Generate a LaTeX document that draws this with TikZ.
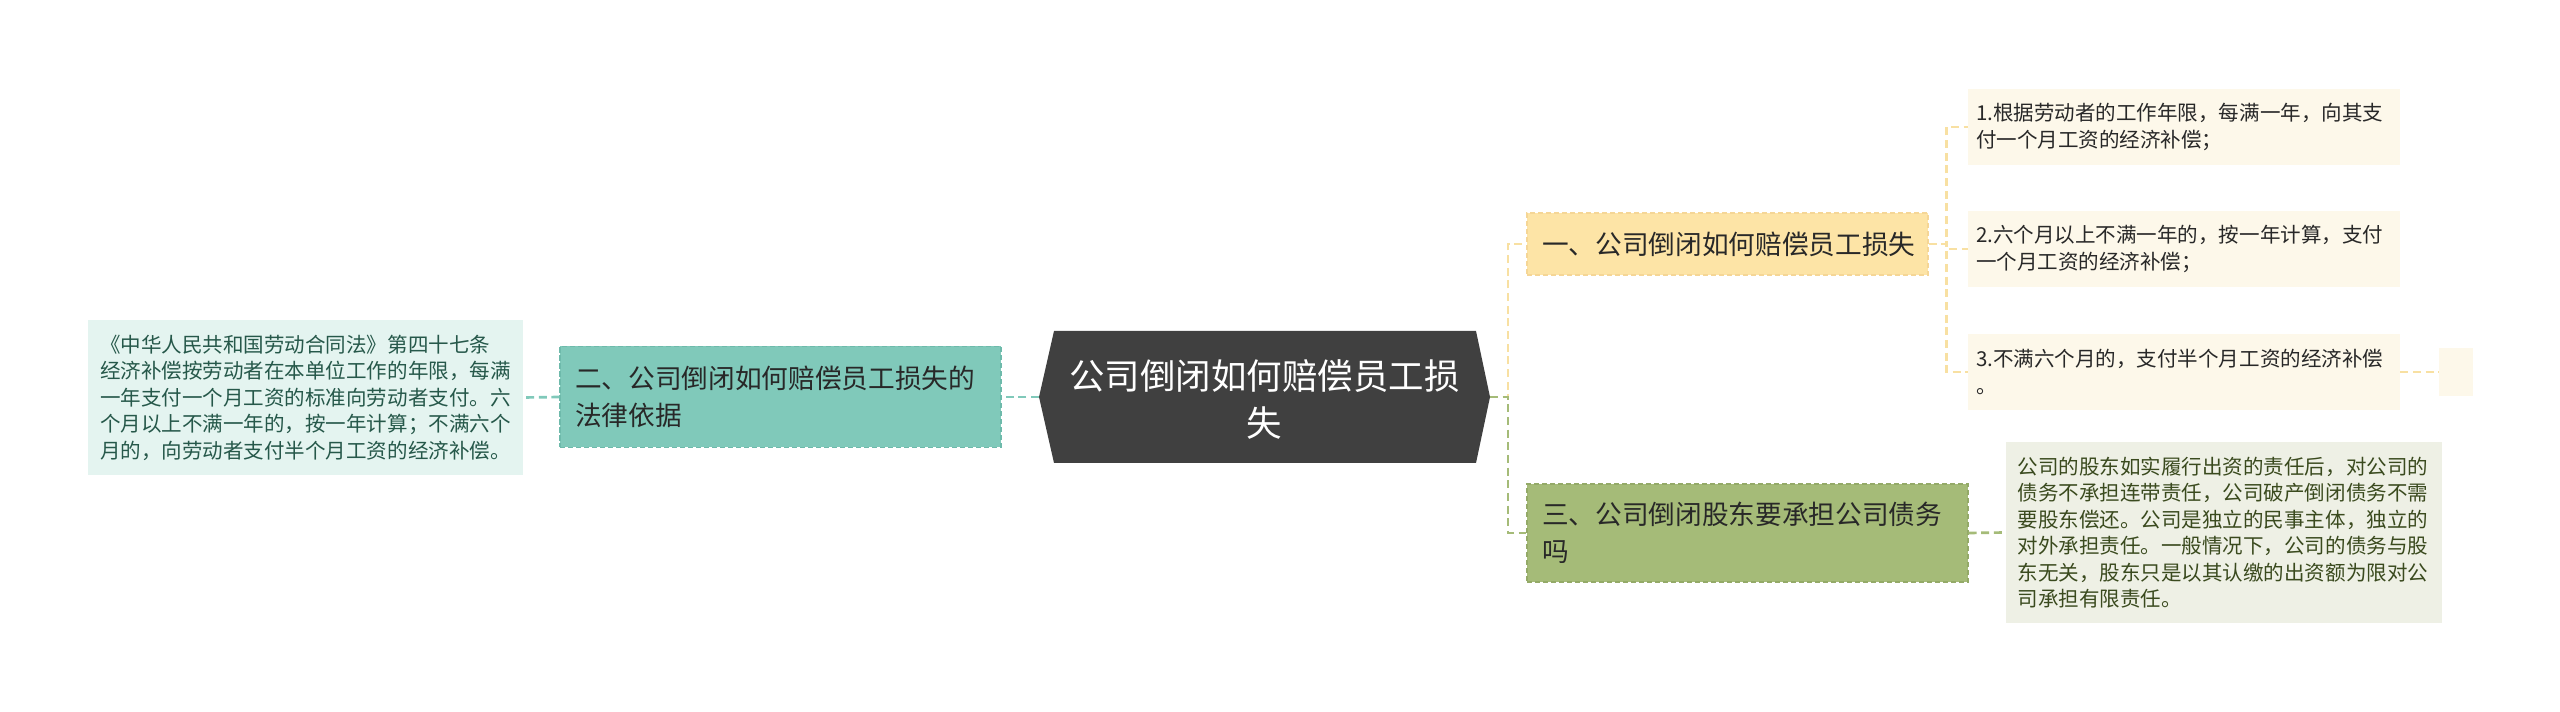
\documentclass[tikz,border=0pt]{standalone}
\usepackage{fontspec}
\setmainfont{Noto Sans CJK SC}
\definecolor{cdark}{RGB}{64,64,64}
\definecolor{tealf}{RGB}{128,201,186}
\definecolor{tealb}{RGB}{110,186,171}
\definecolor{teall}{RGB}{228,244,240}
\definecolor{tealt}{RGB}{38,88,74}
\definecolor{yelf}{RGB}{253,228,166}
\definecolor{yelb}{RGB}{245,214,150}
\definecolor{yelc}{RGB}{248,224,162}
\definecolor{cream}{RGB}{253,248,234}
\definecolor{grnf}{RGB}{165,187,120}
\definecolor{grnb}{RGB}{148,170,104}
\definecolor{grnl}{RGB}{238,240,229}
\definecolor{grnt}{RGB}{58,74,30}
\definecolor{txt}{RGB}{40,40,40}
\begin{document}
\begin{tikzpicture}[x=0.75pt,y=-0.75pt,
  conn/.style={line width=2pt, dash pattern=on 6pt off 3.5pt},
  box/.style={rectangle, anchor=center, align=left, inner ysep=0pt},
  bdash/.style={line width=0.8pt, dash pattern=on 4pt off 2pt},
  mainfont/.style={font=\fontsize{20}{27.75}\selectfont, text=txt},
  leaffont/.style={font=\fontsize{15.4}{19.9}\selectfont}
]
\useasboundingbox (0,0) rectangle (2560,712);

% center
\fill[cdark] (1039,397) -- (1054,331) -- (1476,331) -- (1490,397) -- (1476,463) -- (1054,463) -- cycle;
\coordinate (cL) at (1039,397);
\coordinate (cR) at (1490,397);
\node[align=center, text=white, font=\fontsize{26.6}{35.25}\selectfont] (c) at (1264.5,399) {公司倒闭如何赔偿员工损\\失};

% left branch
\node[box, mainfont, fill=tealf, draw=tealb, bdash, text width=308.25pt, inner xsep=11.25pt, minimum height=75.75pt] (b2) at (780.5,397) {二、公司倒闭如何赔偿员工损失的\\法律依据};
\node[box, leaffont, text=tealt, fill=teall, text width=308.25pt, inner xsep=9pt, minimum height=116.25pt] (ll) at (305.5,397.5) {《中华人民共和国劳动合同法》第四十七条\\经济补偿按劳动者在本单位工作的年限，每满\\一年支付一个月工资的标准向劳动者支付。六\\个月以上不满一年的，按一年计算；不满六个\\月的，向劳动者支付半个月工资的经济补偿。};

% right branch 1
\node[box, mainfont, fill=yelf, draw=yelb, bdash, text width=278.25pt, inner xsep=11.25pt, minimum height=46.5pt] (b1) at (1727.5,244) {一、公司倒闭如何赔偿员工损失};
\node[box, leaffont, text=txt, fill=cream, text width=312pt, inner xsep=6pt, minimum height=57pt] (l1) at (2184,127) {1.根据劳动者的工作年限，每满一年，向其支\\付一个月工资的经济补偿；};
\node[box, leaffont, text=txt, fill=cream, text width=312pt, inner xsep=6pt, minimum height=57pt] (l2) at (2184,249) {2.六个月以上不满一年的，按一年计算，支付\\一个月工资的经济补偿；};
\node[box, leaffont, text=txt, fill=cream, text width=312pt, inner xsep=6pt, minimum height=57pt] (l3) at (2184,372) {3.不满六个月的，支付半个月工资的经济补偿\\。};
\node[box, fill=cream, minimum width=25.5pt, minimum height=36pt, inner sep=0pt] (sm) at (2456,372) {};

% right branch 3
\node[box, mainfont, fill=grnf, draw=grnb, bdash, text width=308.25pt, inner xsep=11.25pt, minimum height=73.5pt] (b3) at (1747.5,533) {三、公司倒闭股东要承担公司债务\\吗};
\node[box, leaffont, text=grnt, fill=grnl, text width=309pt, inner xsep=9pt, minimum height=135.75pt] (r3) at (2223.5,532.5) {公司的股东如实履行出资的责任后，对公司的\\债务不承担连带责任，公司破产倒闭债务不需\\要股东偿还。公司是独立的民事主体，独立的\\对外承担责任。一般情况下，公司的债务与股\\东无关，股东只是以其认缴的出资额为限对公\\司承担有限责任。};

% connectors
\draw[conn, tealf] (cL) -- (b2.east);
\draw[conn, tealf] (b2.west) -- (ll.east);
\draw[conn, yelc] (cR) -- ++(18,0) |- (b1.west);
\draw[conn, grnf] (cR) -- ++(18,0) |- (b3.west);
\draw[conn, yelc] (b1.east) -- ++(18,0) |- (l1.west);
\draw[conn, yelc] (b1.east) -- ++(18,0) |- (l2.west);
\draw[conn, yelc] (b1.east) -- ++(18,0) |- (l3.west);
\draw[conn, yelc] (l3.east) -- (sm.west);
\draw[conn, grnf] (b3.east) -- (r3.west);
\end{tikzpicture}
\end{document}
